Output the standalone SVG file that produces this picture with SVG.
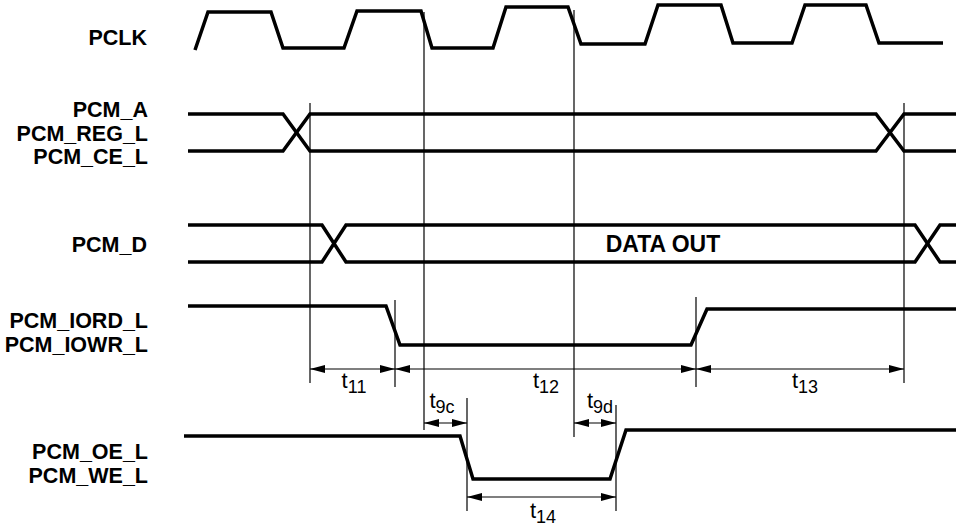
<svg xmlns="http://www.w3.org/2000/svg" width="956" height="529" viewBox="0 0 956 529">
<style>
.sig{fill:none;stroke:#000;stroke-width:3.5;stroke-linejoin:miter}
.guide{fill:none;stroke:#000;stroke-width:1.2}
.dim{fill:none;stroke:#000;stroke-width:1.2;marker-start:url(#ah);marker-end:url(#ah)}
.lbl{font-family:"Liberation Sans",Arial,sans-serif;font-weight:bold;font-size:21.5px;text-anchor:end;fill:#000}
.data{font-family:"Liberation Sans",Arial,sans-serif;font-weight:bold;font-size:23px;text-anchor:middle;fill:#000}
.tl{font-family:"Liberation Sans",Arial,sans-serif;font-size:22px;text-anchor:middle;fill:#000}
.sub{font-size:18px}
</style>
<defs>
<marker id="ah" viewBox="0 0 15 8" refX="15" refY="4" markerWidth="15" markerHeight="8" markerUnits="userSpaceOnUse" orient="auto-start-reverse">
<path d="M0,0 L15,4 L0,8 z" fill="#000"/>
</marker>
</defs>
<rect width="956" height="529" fill="#fff"/>

<g id="pclk">
<text class="lbl" x="147" y="45">PCLK</text>
<polyline class="sig" points="195,50 208,12 271,12 283,48 344,48 357,11 421,11 432,48 493,48 506,7 568,7 581,44 645,44 658,5 721,5 733,43 792,43 805,5 866,5 879,43 943,43"/>
</g>

<g id="pcm_a">
<text class="lbl" x="148" y="117">PCM_A</text>
<text class="lbl" x="148" y="141">PCM_REG_L</text>
<text class="lbl" x="148" y="164">PCM_CE_L</text>
<polyline class="sig" points="188,114 283,114 310,151 876,151 904,114 956,114"/>
<polyline class="sig" points="188,151 283,151 310,114 876,114 904,151 956,151"/>
</g>

<g id="pcm_d">
<text class="lbl" x="147" y="252">PCM_D</text>
<polyline class="sig" points="188,225 322,225 346,262 915,262 940,225 956,225"/>
<polyline class="sig" points="188,262 322,262 346,225 915,225 940,262 956,262"/>
<text class="data" x="663" y="252">DATA OUT</text>
</g>

<g id="pcm_iord">
<text class="lbl" x="148" y="328">PCM_IORD_L</text>
<text class="lbl" x="148" y="352">PCM_IOWR_L</text>
<polyline class="sig" points="188,306 386,306 400,345 691,345 707,309 956,309"/>
</g>

<g id="pcm_oe">
<text class="lbl" x="148" y="459">PCM_OE_L</text>
<text class="lbl" x="148" y="483">PCM_WE_L</text>
<polyline class="sig" points="184,436 460,436 473,479 610,479 626,430 956,430"/>
</g>

<g id="connectors">
<line class="guide" x1="310" y1="103" x2="310" y2="383"/>
<line class="guide" x1="904" y1="103" x2="904" y2="383"/>
<line class="guide" x1="395" y1="300" x2="395" y2="387"/>
<line class="guide" x1="696" y1="297" x2="696" y2="387"/>
<line class="guide" x1="424" y1="12" x2="424" y2="430"/>
<line class="guide" x1="574" y1="10" x2="574" y2="437"/>
<line class="guide" x1="467" y1="398" x2="467" y2="511"/>
<line class="guide" x1="616" y1="405" x2="616" y2="511"/>
<line class="dim" x1="310" y1="369" x2="395" y2="369"/>
<line class="dim" x1="395" y1="369" x2="696" y2="369"/>
<line class="dim" x1="696" y1="369" x2="904" y2="369"/>
<line class="dim" x1="424" y1="423" x2="467" y2="423"/>
<line class="dim" x1="574" y1="423" x2="616" y2="423"/>
<line class="dim" x1="467" y1="497" x2="616" y2="497"/>
</g>

<g id="labels">
<text class="tl" x="354" y="388">t<tspan class="sub" dy="5">11</tspan></text>
<text class="tl" x="546" y="388">t<tspan class="sub" dy="5">12</tspan></text>
<text class="tl" x="805" y="388">t<tspan class="sub" dy="5">13</tspan></text>
<text class="tl" x="442" y="408">t<tspan class="sub" dy="5">9c</tspan></text>
<text class="tl" x="600" y="408">t<tspan class="sub" dy="5">9d</tspan></text>
<text class="tl" x="543" y="518">t<tspan class="sub" dy="5">14</tspan></text>
</g>
</svg>
